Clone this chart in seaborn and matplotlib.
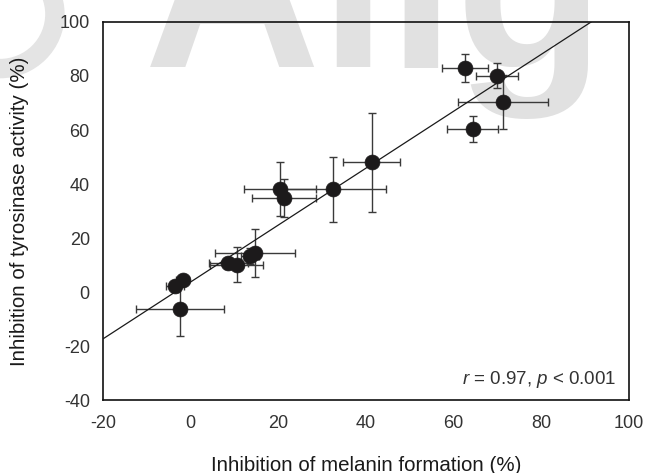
import numpy as np
import pandas as pd
import matplotlib
matplotlib.use("Agg")
import matplotlib.pyplot as plt
from matplotlib.patches import Ellipse
import seaborn as sns

# Data
melanin = [62.6, 69.9, 71.2, 64.3, 41.3, 32.5, 20.4, 21.3, -2.4, -3.6, -1.8, 8.6, 10.5, 13.5, 14.7]
tyrosinase = [83.0, 80.1, 70.2, 60.5, 48.1, 38.1, 38.3, 34.8, -6.3, 2.1, 4.3, 10.7, 10.1, 13.2, 14.4]
melanin_err = [5.3, 4.7, 10.3, 5.8, 6.5, 12.0, 8.3, 7.4, 10.0, 2.0, 1.5, 4.5, 6.0, 2.0, 9.2]
tyrosinase_err = [5.2, 4.6, 10.0, 4.8, 18.3, 12.0, 10.0, 7.2, 10.0, 2.0, 1.5, 2.0, 6.5, 3.0, 9.0]
x_ticks = [-20, 0, 20, 40, 60, 80, 100]
y_ticks = [-40, -20, 0, 20, 40, 60, 80, 100]
stats_label = r"$\mathit{r}$ = 0.97, $\mathit{p}$ < 0.001"

df = pd.DataFrame({"melanin": melanin, "tyrosinase": tyrosinase,
                   "xerr": melanin_err, "yerr": tyrosinase_err})

sns.set_style("white")
plt.rcParams["font.family"] = ["Liberation Sans", "DejaVu Sans"]
plt.rcParams["mathtext.fontset"] = "custom"
plt.rcParams["mathtext.rm"] = "Liberation Sans"
plt.rcParams["mathtext.it"] = "Liberation Sans:italic"
plt.rcParams["axes.unicode_minus"] = False

fig = plt.figure(figsize=(6.46, 4.73), dpi=100)

# faint watermark behind everything
fig.text(0.222, 0.858, "Alig", fontsize=176, fontweight="bold", color="#e1e1e1",
         ha="left", va="baseline", zorder=-2)
fig.patches.append(Ellipse((0.0, 0.97), 0.17, 0.23, transform=fig.transFigure,
                           facecolor="none", edgecolor="#e4e4e4", linewidth=14, zorder=-2))

ax = fig.add_axes([0.1594, 0.1543, 0.8143, 0.7992])
ax.set_facecolor("none")
ax.set_xlim(-20, 100)
ax.set_ylim(-40, 100)

# error bars
ax.errorbar(df["melanin"], df["tyrosinase"], xerr=df["xerr"], yerr=df["yerr"],
            fmt="none", ecolor="#3a3a3a", elinewidth=1.0, capsize=3.2, capthick=1.0, zorder=2)

# regression line across the full x range
sns.regplot(data=df, x="melanin", y="tyrosinase", ax=ax, scatter=False, ci=None,
            truncate=False, line_kws={"color": "#1a1a1a", "linewidth": 0.9, "zorder": 3})

sns.scatterplot(data=df, x="melanin", y="tyrosinase", ax=ax, s=115, color="#1c1a1b",
                edgecolor="#1c1a1b", linewidth=0.5, zorder=4)

ax.set_xlim(-20, 100)
ax.set_ylim(-40, 100)
ax.set_xticks(x_ticks)
ax.set_yticks(y_ticks)
ax.tick_params(axis="both", direction="out", length=4, width=1, color="#222222",
               labelsize=13, labelcolor="#333333")
ax.tick_params(axis="x", pad=6.5)
ax.tick_params(axis="y", pad=5.5)
for side in ["left", "bottom", "top", "right"]:
    ax.spines[side].set_visible(True)
    ax.spines[side].set_color("#111111")
    ax.spines[side].set_linewidth(1.2)

ax.set_xlabel("Inhibition of melanin formation (%)", fontsize=14.8, color="#1a1a1a", va="center")
ax.set_ylabel("Inhibition of tyrosinase activity (%)", fontsize=14.8, color="#1a1a1a", va="center")
ax.xaxis.set_label_coords(0.5, -0.172)
ax.yaxis.set_label_coords(-0.159, 0.5)

ax.text(0.975, 0.053, stats_label, transform=ax.transAxes, ha="right", va="center",
        fontsize=13.5, color="#333333")

fig.savefig("out.png", dpi=100)
